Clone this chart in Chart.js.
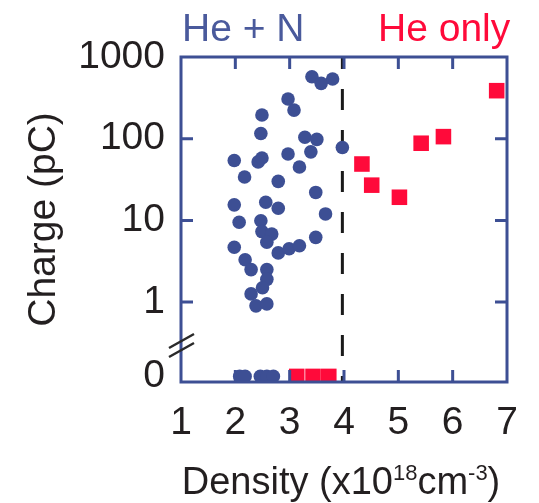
<!DOCTYPE html>
<html><head><meta charset="utf-8">
<script src="https://cdn.jsdelivr.net/npm/chart.js@4.4.1/dist/chart.umd.min.js"></script>
<style>html,body{margin:0;padding:0;background:#fff;} #wrap{width:539px;height:503px;}</style>
</head><body><div id="wrap"><canvas id="c" width="539" height="503"></canvas></div>
<script>
// ---- data ----
const heN_density = [3.41,3.58,3.79,2.97,3.08,2.49,2.47,3.28,3.50,3.39,3.97,1.98,2.42,2.49,2.97,3.18,2.17,2.79,3.48,1.98,2.56,2.79,3.66,2.07,2.47,2.49,2.67,2.58,3.48,1.98,2.79,2.99,3.18,2.18,2.29,2.58,2.58,2.50,2.29,2.38,2.58];
const heN_charge  = [574,476,538,306,224,195,116,104,98,69,78,54,52,58,65,45,34,30,22,15.5,16.7,14.1,12.0,9.5,9.9,7.3,6.8,5.4,6.2,4.7,4.0,4.5,4.9,3.3,2.5,2.5,1.9,1.5,1.26,0.9,0.95];
const heOnly_density = [4.33,4.51,5.02,5.42,5.83,6.81];
const heOnly_charge  = [49,27,19.2,88,106,387];
const heN_zero_density    = [2.08,2.18,2.46,2.58,2.70];
const heOnly_zero_density = [3.13,3.43,3.72];
const splitDensity = 3.97;
const xTickValues = [1,2,3,4,5,6,7];
const yTickValues = [1,10,100,1000];
const yTickLabels = ['1','10','100','1000'];
const yZeroLabel = '0';
const seriesNames = ['He + N','He only'];

// ---- styling ----
const FONT = "'Liberation Sans', Arial, Helvetica, sans-serif";
const BLUE = '#3d4f94', HEAD_BLUE = '#4a5a9c', RED = '#ff0a3a', INK = '#231f20';

function pts(xs, ys){ return xs.map((x,i)=>({x:x, y:ys[i]})); }

const decor = {
  id:'decor',
  beforeDatasetsDraw(chart){
    const {ctx, chartArea:a, scales} = chart;
    const px = scales.x.getPixelForValue(splitDensity);
    ctx.save();
    ctx.strokeStyle = '#1a1a1a'; ctx.lineWidth = 3;
    ctx.setLineDash([21,20]); ctx.lineDashOffset = 9;
    ctx.beginPath(); ctx.moveTo(px, a.top); ctx.lineTo(px, a.bottom); ctx.stroke();
    ctx.restore();
  },
  afterDatasetsDraw(chart){
    const {ctx, chartArea:a, scales} = chart;
    ctx.save();
    ctx.strokeStyle = BLUE; ctx.lineWidth = 3; ctx.lineCap = 'butt';
    ctx.strokeRect(a.left, a.top, a.right-a.left, a.bottom-a.top);
    const tl = 12;
    ctx.beginPath();
    xTickValues.slice(1,-1).forEach(v=>{
      const x = scales.x.getPixelForValue(v);
      ctx.moveTo(x, a.top); ctx.lineTo(x, a.top+tl);
      ctx.moveTo(x, a.bottom); ctx.lineTo(x, a.bottom-tl);
    });
    yTickValues.slice(0,-1).forEach(v=>{
      const y = scales.y.getPixelForValue(v);
      ctx.moveTo(a.left, y); ctx.lineTo(a.left+tl, y);
      ctx.moveTo(a.right, y); ctx.lineTo(a.right-tl, y);
    });
    ctx.stroke();
    // axis break marks
    const bx = a.left, by = scales.y.bottom;
    ctx.strokeStyle = '#2a2a2a'; ctx.lineWidth = 2.5;
    ctx.beginPath();
    ctx.moveTo(bx-12, by+3); ctx.lineTo(bx+13, by-11);
    ctx.moveTo(bx-12, by+12); ctx.lineTo(bx+13, by-2);
    ctx.stroke();
    ctx.restore();
  },
  afterDraw(chart){
    const {ctx, chartArea:a} = chart;
    ctx.save();
    ctx.textBaseline = 'alphabetic'; ctx.textAlign = 'left';
    ctx.font = '39px ' + FONT;
    ctx.fillStyle = HEAD_BLUE; ctx.fillText(seriesNames[0], 182, 41);
    ctx.fillStyle = RED; ctx.fillText(seriesNames[1], 378, 41);
    // y title
    ctx.fillStyle = INK;
    ctx.save();
    ctx.translate(55, (a.top+a.bottom)/2);
    ctx.rotate(-Math.PI/2);
    ctx.textAlign = 'center';
    ctx.fillText('Charge (pC)', 0, 0);
    ctx.restore();
    // x title with superscripts
    const parts = [['Density (x10',38,0],['18',22,-14],['cm',38,0],['-3',22,-14],[')',38,0]];
    let w = 0;
    parts.forEach(p=>{ ctx.font = p[1]+'px '+FONT; w += ctx.measureText(p[0]).width; });
    let x = (a.left+a.right)/2 - w/2 - 3;
    parts.forEach(p=>{ ctx.font = p[1]+'px '+FONT; ctx.fillText(p[0], x, 494+p[2]); x += ctx.measureText(p[0]).width; });
    ctx.restore();
  }
};

const tickFont = {family: FONT, size: 39};
new Chart(document.getElementById('c'), {
  type: 'scatter',
  data: { datasets: [
    {label: seriesNames[0], data: pts(heN_density, heN_charge), yAxisID:'y', pointStyle:'circle', pointRadius:6.8, backgroundColor:BLUE, borderWidth:0, clip:0},
    {label: seriesNames[1], data: pts(heOnly_density, heOnly_charge), yAxisID:'y', pointStyle:'rect', pointRadius:11, backgroundColor:RED, borderWidth:0, clip:0},
    {label: seriesNames[0]+' (0)', data: pts(heN_zero_density, heN_zero_density.map(()=>0)), yAxisID:'yZero', pointStyle:'circle', pointRadius:6.8, backgroundColor:BLUE, borderWidth:0, clip:0},
    {label: seriesNames[1]+' (0)', data: pts(heOnly_zero_density, heOnly_zero_density.map(()=>0)), yAxisID:'yZero', pointStyle:'rect', pointRadius:11, backgroundColor:RED, borderWidth:0, clip:0}
  ]},
  options: {
    responsive:false, animation:false, devicePixelRatio:1,
    layout:{padding:{top:57, right:32, bottom:0, left:0}},
    plugins:{legend:{display:false}, tooltip:{enabled:false}},
    scales:{
      yZero:{type:'linear', position:'left', stack:'ys', stackWeight:37, min:-0.151, max:0.849,
        afterBuildTicks(s){ s.ticks = [{value:0}]; },
        afterFit(s){ s.width = 181; },
        grid:{display:false, drawTicks:false}, border:{display:false},
        ticks:{font:tickFont, color:INK, padding:16, callback:()=>yZeroLabel}},
      y:{type:'logarithmic', position:'left', stack:'ys', stackWeight:288, min:0.2985, max:1000,
        afterBuildTicks(s){ s.ticks = yTickValues.map(v=>({value:v})); },
        afterFit(s){ s.width = 181; },
        grid:{display:false, drawTicks:false}, border:{display:false},
        ticks:{font:tickFont, color:INK, padding:16, autoSkip:false,
          callback:(v)=>{ const i = yTickValues.indexOf(v); return i>=0 ? yTickLabels[i] : ''; }}},
      x:{type:'linear', position:'bottom', min:1, max:7,
        afterBuildTicks(s){ s.ticks = xTickValues.map(v=>({value:v})); },
        afterFit(s){ s.height = 121; },
        grid:{display:false, drawTicks:false}, border:{display:false},
        ticks:{font:tickFont, color:INK, padding:18, maxRotation:0, autoSkip:false}}
    }
  },
  plugins:[decor]
});
</script>
</body></html>
